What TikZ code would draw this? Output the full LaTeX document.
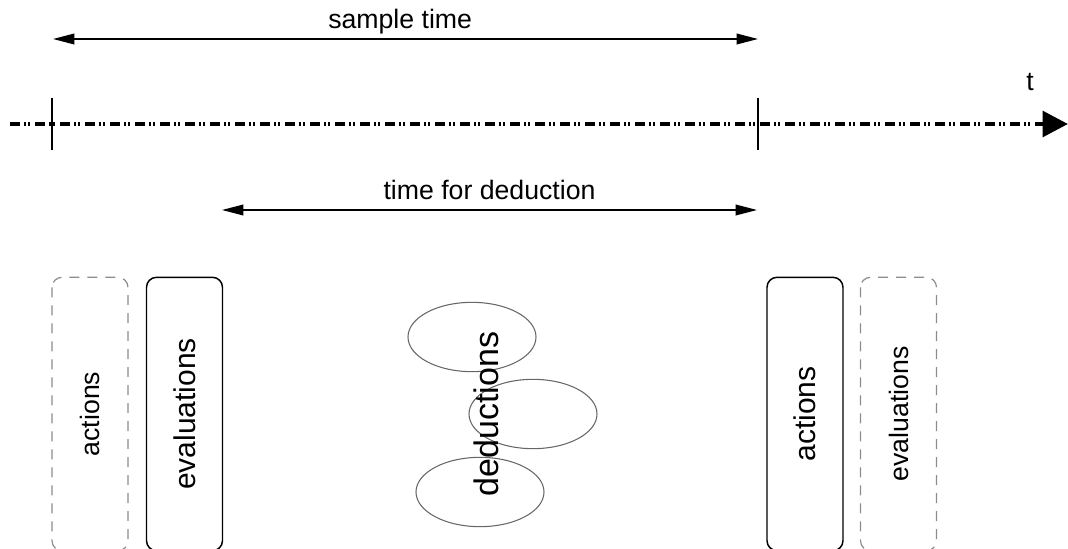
\documentclass[tikz,border=0pt]{standalone}
\usepackage{fontspec}
\setmainfont{Liberation Sans}
\usetikzlibrary{arrows.meta,shapes.geometric}

\tikzset{every picture/.style={line width=0.75pt}}
\tikzset{
  timeline/.style={line width=3.5pt, dash pattern=on 7.5pt off 3pt on 1.5pt off 1.5pt on 1.5pt off 3.75pt,
    -{Triangle[length=19pt,width=19pt]}},
  spanarrow/.style={line width=1.1pt, {Triangle[length=16pt,width=8pt]}-{Triangle[length=16pt,width=8pt]}},
  tickline/.style={line width=1.1pt},
  spanlabel/.style={midway, anchor=base, font=\fontsize{20}{24}\selectfont},
  phasebox/.style={draw, line width=1.1pt, rounded corners=7.5pt, rotate=90, minimum width=205pt,
    minimum height=57pt, inner sep=0pt, font=\fontsize{22.5}{26}\selectfont},
  ghostbox/.style={phasebox, draw=black!45, line width=0.9pt, dash pattern=on 7.5pt off 6pt,
    font=\fontsize{20}{24}\selectfont},
  dedblob/.style={draw=black!60, line width=0.8pt, ellipse, minimum width=96pt, minimum height=52pt, inner sep=0pt}
}

\begin{document}
\begin{tikzpicture}[x=0.75pt,y=0.75pt,yscale=-1,xscale=1]
\useasboundingbox (0,0) rectangle (1068,549);

%Time axis
\coordinate (tl-start) at (10,124);
\coordinate (tl-end) at (1068,124);
\draw [timeline] (tl-start) -- (tl-end);
\node [anchor=base, font=\fontsize{20}{24}\selectfont] (tlabel) at (1030,91) {t};

%Sample instants
\draw [tickline] (52,98) -- (52,150);
\draw [tickline] (758,98) -- (758,150);

%Sample time
\coordinate (st-l) at (53,39);
\coordinate (st-r) at (758,39);
\draw [spanarrow] (st-l) -- node [spanlabel, xshift=-4pt, yshift=8pt] (stlabel) {sample time} (st-r);

%Time for deduction
\coordinate (dt-l) at (222,210);
\coordinate (dt-r) at (757,210);
\draw [spanarrow] (dt-l) -- node [spanlabel, yshift=7.5pt] (dtlabel) {time for deduction} (dt-r);

%Phases
\node [ghostbox] (act-old) at (90,414) {actions};
\node [phasebox] (eval-cur) at (184.5,414) {evaluations};
\node [phasebox] (act-new) at (805,414) {actions};
\node [ghostbox] (eval-next) at (898.5,414) {evaluations};

%Deductions
\node [dedblob] (ded-a) at (472,337) {};
\node [dedblob] (ded-b) at (533,414) {};
\node [dedblob] (ded-c) at (480,492) {};
\node [rotate=90, font=\fontsize{25.5}{30}\selectfont] (ded) at (486,414) {deductions};
\end{tikzpicture}
\end{document}
